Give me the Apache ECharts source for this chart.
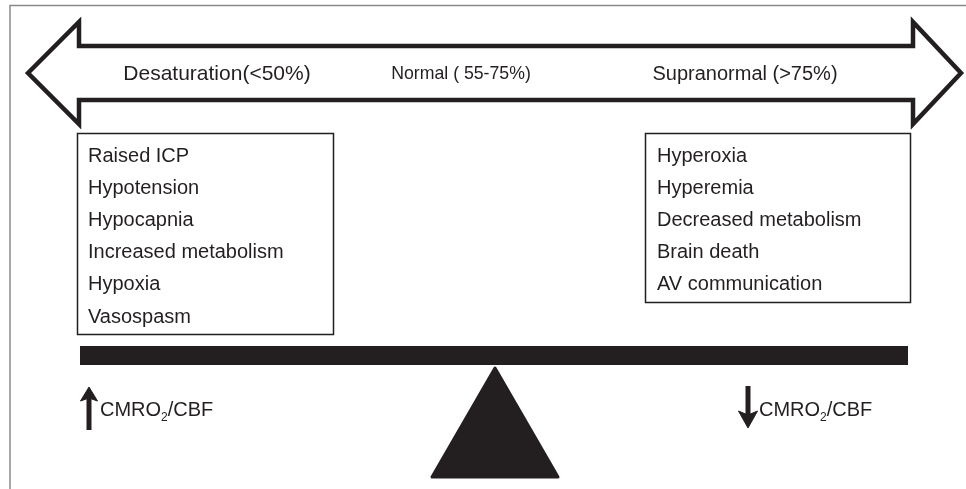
<!DOCTYPE html>
<html>
<head>
<meta charset="utf-8">
<script src="https://cdn.jsdelivr.net/npm/echarts@6/dist/echarts.min.js"></script>
<style>html,body{margin:0;padding:0;background:#fff;}#c{width:966px;height:489px;}</style>
</head>
<body>
<div id="c"></div>
<script>
// Diagram content
var headerLabels = ['Desaturation(<50%)', 'Normal ( 55-75%)', 'Supranormal (>75%)'];
var leftCauses = ['Raised ICP', 'Hypotension', 'Hypocapnia', 'Increased metabolism', 'Hypoxia', 'Vasospasm'];
var rightCauses = ['Hyperoxia', 'Hyperemia', 'Decreased metabolism', 'Brain death', 'AV communication'];
var ratioLabel = ['CMRO', '2', '/CBF'];

var INK = '#231f20';
var FONT = 'Liberation Sans, Arial, Helvetica, sans-serif';
var chart = echarts.init(document.getElementById('c'), null, {renderer: 'canvas'});

var g = [];
// outer frame
g.push({type: 'polyline', shape: {points: [[10, 489], [10, 5.5], [966, 5.5]]}, style: {stroke: '#8a8a8a', lineWidth: 1.5, fill: null}});
// double arrow
g.push({type: 'polygon', shape: {points: [[28, 73], [79, 22], [79, 46], [913, 46], [913, 22], [961, 73], [913, 124], [913, 100], [79, 100], [79, 124]]},
  style: {stroke: INK, lineWidth: 4.5, fill: '#fff', lineJoin: 'miter', miterLimit: 10}});
var headerX = [217, 461, 745];
var headerSize = [21, 17.7, 20];
headerLabels.forEach(function (t, i) {
  g.push({type: 'text', x: headerX[i], y: 74, style: {text: t, font: headerSize[i] + 'px ' + FONT, fill: INK, align: 'center', verticalAlign: 'middle'}});
});
// boxes
g.push({type: 'rect', shape: {x: 77.5, y: 133.5, width: 256, height: 201}, style: {stroke: INK, lineWidth: 1.5, fill: '#fff'}});
g.push({type: 'rect', shape: {x: 645.5, y: 133.5, width: 265, height: 169}, style: {stroke: INK, lineWidth: 1.5, fill: '#fff'}});
leftCauses.forEach(function (t, i) {
  g.push({type: 'text', x: 88, y: 156 + i * 32.2, style: {text: t, font: '20px ' + FONT, fill: INK, align: 'left', verticalAlign: 'middle'}});
});
rightCauses.forEach(function (t, i) {
  g.push({type: 'text', x: 657, y: 156 + i * 32.2, style: {text: t, font: '20px ' + FONT, fill: INK, align: 'left', verticalAlign: 'middle'}});
});
// beam and fulcrum
g.push({type: 'rect', shape: {x: 80, y: 346, width: 828, height: 19}, style: {fill: INK}});
g.push({type: 'polygon', shape: {points: [[495, 368], [558, 477], [432, 477]]}, style: {fill: INK, stroke: INK, lineWidth: 3, lineJoin: 'round'}});
// up arrow
g.push({type: 'line', shape: {x1: 89, y1: 396, x2: 89, y2: 430}, style: {stroke: INK, lineWidth: 5}});
g.push({type: 'polygon', shape: {points: [[89, 387], [97.5, 401], [89, 398], [80.5, 401]]}, style: {fill: INK, stroke: INK, lineWidth: 1, lineJoin: 'miter'}});
// down arrow
g.push({type: 'line', shape: {x1: 748, y1: 386, x2: 748, y2: 419}, style: {stroke: INK, lineWidth: 5}});
g.push({type: 'polygon', shape: {points: [[748, 428], [757.5, 411], [748, 415], [738.5, 411]]}, style: {fill: INK, stroke: INK, lineWidth: 1, lineJoin: 'miter'}});

function ratioText(x) {
  return {type: 'text', x: x, y: 410, style: {
    text: '{a|' + ratioLabel[0] + '}{b|' + ratioLabel[1] + '}{a|' + ratioLabel[2] + '}',
    rich: {a: {font: '20px ' + FONT, fill: INK, verticalAlign: 'middle'},
           b: {font: '12px ' + FONT, fill: INK, padding: [16, 0, 0, 0], verticalAlign: 'middle'}},
    align: 'left', verticalAlign: 'middle'}};
}
g.push(ratioText(100));
g.push(ratioText(759));

chart.setOption({animation: false, backgroundColor: '#fff', graphic: g});
</script>
</body>
</html>
